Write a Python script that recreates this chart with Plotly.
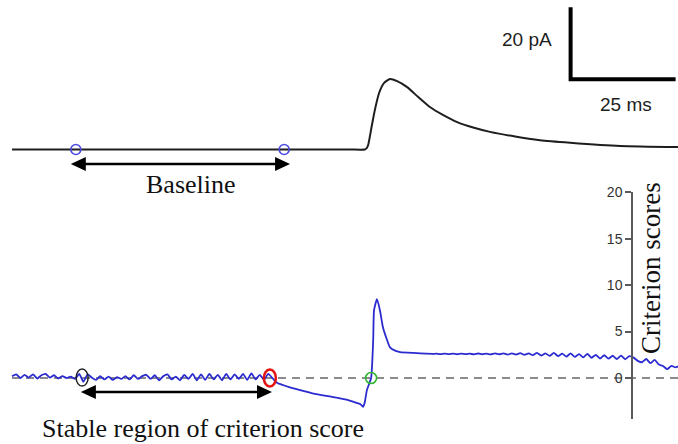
import plotly.graph_objects as go

# ---------------- data ----------------
# Top panel: averaged current trace (pA) vs time (ms)
current_t = [0, 80.0, 84.0, 84.4, 84.8, 85.7, 86.4, 87.4, 88.6, 90.0, 91.7, 94.0, 96.7,
             99.5, 102.6, 106.0, 109.8, 113.8, 119.8, 125.7, 132.9, 144.8, 158.6]
current_pA = [0, 0, 0, 0.3, 1.25, 6.8, 11.0, 15.7, 18.5, 19.6, 19.0, 17.4, 14.6,
              11.8, 9.6, 7.6, 6.1, 4.9, 3.6, 2.6, 1.9, 1.0, 0.7]

# Bottom panel: criterion score vs time (ms)
crit_t = [0, 1, 2, 3, 4, 5, 6, 7, 8, 9, 10, 11, 12, 13, 14, 15, 16, 17, 18, 19, 20,
          21, 22, 23, 24, 25, 26, 27, 28, 29, 30, 31, 32, 33, 34, 35, 36, 37, 38, 39, 40,
          41, 42, 43, 44, 45, 46, 47, 48, 49, 50, 51, 52, 53, 54, 55, 56, 57, 58, 59, 60,
          61, 62,
          63.1, 66.2, 68.6, 72.1, 76.4, 79.3, 81.2, 82.9, 83.6, 84.0, 84.5, 85.5, 86.0,
          86.2, 86.9, 87.6, 88.3, 89.3, 90.0, 91.2, 92.4, 95.5, 100.2,
          101, 102, 103, 104, 105, 106, 107, 108, 109, 110, 111, 112, 113, 114, 115,
          116, 117, 118, 119, 120, 121, 122, 123, 124, 125, 126, 127, 128, 129, 130,
          131, 132, 133, 134, 135, 136, 137, 138, 139, 140, 141, 142, 143, 144, 145,
          146, 147, 148, 149, 150, 151, 152, 153, 154, 155, 156, 157, 158, 158.6]
crit_v = [0.2, 0.4, 0.0, 0.35, 0.05, 0.4, -0.05, 0.3, 0.45, 0.05, 0.3, -0.05, 0.2, 0.0,
          0.15, -0.1, 0.45, -0.4, 0.4, 0.05, -0.2, 0.2, -0.15, 0.15, -0.2, 0.1, -0.1,
          0.2, -0.15, 0.3, -0.1, 0.2, 0.35, -0.1, 0.3, -0.25, 0.2, 0.4, -0.15, 0.15,
          -0.25, 0.35, -0.1, 0.45, -0.25, 0.4, -0.2, 0.45, -0.15, 0.35, -0.25, 0.45, -0.15,
          0.4, -0.1, 0.45, -0.2, 0.5, -0.15, 0.35, -0.2, 0.45, 0.0,
          -0.5, -1.0, -1.3, -1.7, -2.05, -2.3, -2.55, -2.8, -3.1, -2.6, -1.3, 0.0, 4.1,
          7.3, 8.5, 7.3, 5.5, 4.1, 3.3, 2.95, 2.8, 2.7, 2.6,
          2.62, 2.57, 2.63, 2.58, 2.62, 2.56, 2.63, 2.57, 2.62, 2.55, 2.64, 2.56, 2.62,
          2.54, 2.65, 2.55, 2.66, 2.52, 2.66, 2.52, 2.68, 2.5, 2.66, 2.46, 2.7, 2.42,
          2.66, 2.38, 2.7, 2.36, 2.62, 2.3, 2.66, 2.28, 2.58, 2.22, 2.6, 2.18, 2.5, 2.1,
          2.46, 2.08, 2.4, 2.05, 2.42, 2.02, 2.35, 2.2, 1.85, 1.7, 2.05, 1.6, 1.95, 1.45,
          1.3, 0.95, 1.3, 1.15, 1.25]

crit_ticks = [0, 5, 10, 15, 20]

# annotated points
baseline_marks_t = [15.2, 64.8]           # baseline window (pA = 0)
baseline_arrow_t = [14.0, 66.2]
baseline_arrow_pA = -4.0
stable_start_t, stable_start_v = 16.7, 0.05
stable_end_t, stable_end_v = 61.4, 0.0
onset_t, onset_v = 85.5, 0.0
stable_arrow_t = [16.4, 61.9]
stable_arrow_v = -1.5

# scale bar
scale_t0, scale_ms = 133.0, 25
scale_pA0, scale_pA = 19.5, 20

# ---------------- figure ----------------
W, H = 678, 444
SERIF = "Liberation Serif, Times New Roman, serif"
SANS = "Liberation Sans, Arial, Helvetica, sans-serif"

def py(px):
    return 1 - px / H

def pxx(px):
    return px / W

fig = go.Figure()

# top current trace
fig.add_trace(go.Scatter(x=current_t, y=current_pA, mode="lines",
                         line=dict(color="#1e1e1e", width=2, shape="spline", smoothing=0.6),
                         xaxis="x", yaxis="y", hoverinfo="skip"))
fig.add_trace(go.Scatter(x=baseline_marks_t, y=[0, 0], mode="markers",
                         marker=dict(symbol="circle-open", size=10,
                                     line=dict(color="#4a4ae0", width=1.6), color="#4a4ae0"),
                         xaxis="x", yaxis="y", hoverinfo="skip"))

# zero dashed line
fig.add_trace(go.Scatter(x=[crit_t[0], crit_t[-1]], y=[0, 0], mode="lines",
                         line=dict(color="#8c8c8c", width=2, dash="8px,6px"),
                         xaxis="x", yaxis="y2", hoverinfo="skip"))
# criterion trace
fig.add_trace(go.Scatter(x=crit_t, y=crit_v, mode="lines",
                         line=dict(color="#2b2bd0", width=1.8, shape="spline", smoothing=0.5),
                         xaxis="x", yaxis="y2", hoverinfo="skip"))

shapes = []
# scale bar
shapes.append(dict(type="path", xref="x", yref="y",
                   path=f"M {scale_t0},{scale_pA0 + scale_pA} L {scale_t0},{scale_pA0} L {scale_t0 + scale_ms},{scale_pA0}",
                   line=dict(color="black", width=4)))

def double_arrow(t0, t1, yv, yref):
    out = [dict(type="line", xref="x", yref=yref, x0=t0 + 1.0, x1=t1 - 1.0, y0=yv, y1=yv,
                line=dict(color="black", width=2.5))]
    out.append(dict(type="path", xref="x", yref=yref, xsizemode="pixel", ysizemode="pixel",
                    xanchor=t0, yanchor=yv, path="M0,0 L15,7 L15,-7 Z",
                    fillcolor="black", line=dict(color="black", width=0)))
    out.append(dict(type="path", xref="x", yref=yref, xsizemode="pixel", ysizemode="pixel",
                    xanchor=t1, yanchor=yv, path="M0,0 L-15,7 L-15,-7 Z",
                    fillcolor="black", line=dict(color="black", width=0)))
    return out

shapes += double_arrow(baseline_arrow_t[0], baseline_arrow_t[1], baseline_arrow_pA, "y")
shapes += double_arrow(stable_arrow_t[0], stable_arrow_t[1], stable_arrow_v, "y2")

def ellipse(t, v, rx, ry, color, width):
    return dict(type="circle", xref="x", yref="y2", xsizemode="pixel", ysizemode="pixel",
                xanchor=t, yanchor=v, x0=-rx, x1=rx, y0=-ry, y1=ry,
                line=dict(color=color, width=width))

shapes.append(ellipse(stable_start_t, stable_start_v, 6, 8.5, "#222222", 1.5))
shapes.append(ellipse(stable_end_t, stable_end_v, 6, 8.5, "#e31212", 2.5))
shapes.append(ellipse(onset_t, onset_v, 5.5, 5.5, "#2fb82f", 1.6))

annotations = [
    dict(text="20 pA", x=pxx(527), y=py(40), xref="paper", yref="paper", showarrow=False,
         xanchor="center", yanchor="middle", font=dict(family=SANS, size=19, color="#1e1e1e")),
    dict(text="25 ms", x=pxx(626), y=py(104), xref="paper", yref="paper", showarrow=False,
         xanchor="center", yanchor="middle", font=dict(family=SANS, size=19, color="#1e1e1e")),
    dict(text="Baseline", x=pxx(191), y=py(184), xref="paper", yref="paper", showarrow=False,
         xanchor="center", yanchor="middle", font=dict(family=SERIF, size=26, color="#111")),
    dict(text="Stable region of criterion score", x=pxx(203), y=py(428), xref="paper",
         yref="paper", showarrow=False, xanchor="center", yanchor="middle",
         font=dict(family=SERIF, size=26, color="#111")),
    dict(text="Criterion scores", x=pxx(651), y=py(268), xref="paper", yref="paper",
         showarrow=False, xanchor="center", yanchor="middle", textangle=-90,
         font=dict(family=SERIF, size=27, color="#111")),
]

x_px_per_ms = 4.2
top_px_per_pA = 3.6
crit_px_per_unit = 9.3

fig.update_layout(
    template="none",
    width=W, height=H,
    margin=dict(l=0, r=0, t=0, b=0, pad=0, autoexpand=False),
    paper_bgcolor="white", plot_bgcolor="white",
    showlegend=False,
    xaxis=dict(domain=[0, 1], range=[-12 / x_px_per_ms, (W - 12) / x_px_per_ms],
               visible=False, fixedrange=True, automargin=False),
    yaxis=dict(domain=[py(190), 1], range=[-(190 - 149.5) / top_px_per_pA, 149.5 / top_px_per_pA],
               visible=False, fixedrange=True, automargin=False),
    yaxis2=dict(domain=[py(419), py(192)],
                range=[-(419 - 378) / crit_px_per_unit, (378 - 191.8) / crit_px_per_unit],
                anchor="free", position=pxx(632), side="left",
                showline=True, linecolor="#5a5a5a", linewidth=1.5,
                ticks="outside", ticklen=6, tickwidth=1.5, tickcolor="#5a5a5a",
                tickvals=crit_ticks, ticktext=[str(v) for v in crit_ticks],
                tickfont=dict(family=SANS, size=14, color="#333"),
                showgrid=False, zeroline=False, fixedrange=True, automargin=False),
    shapes=shapes,
    annotations=annotations,
)

fig.write_html("out.html")
